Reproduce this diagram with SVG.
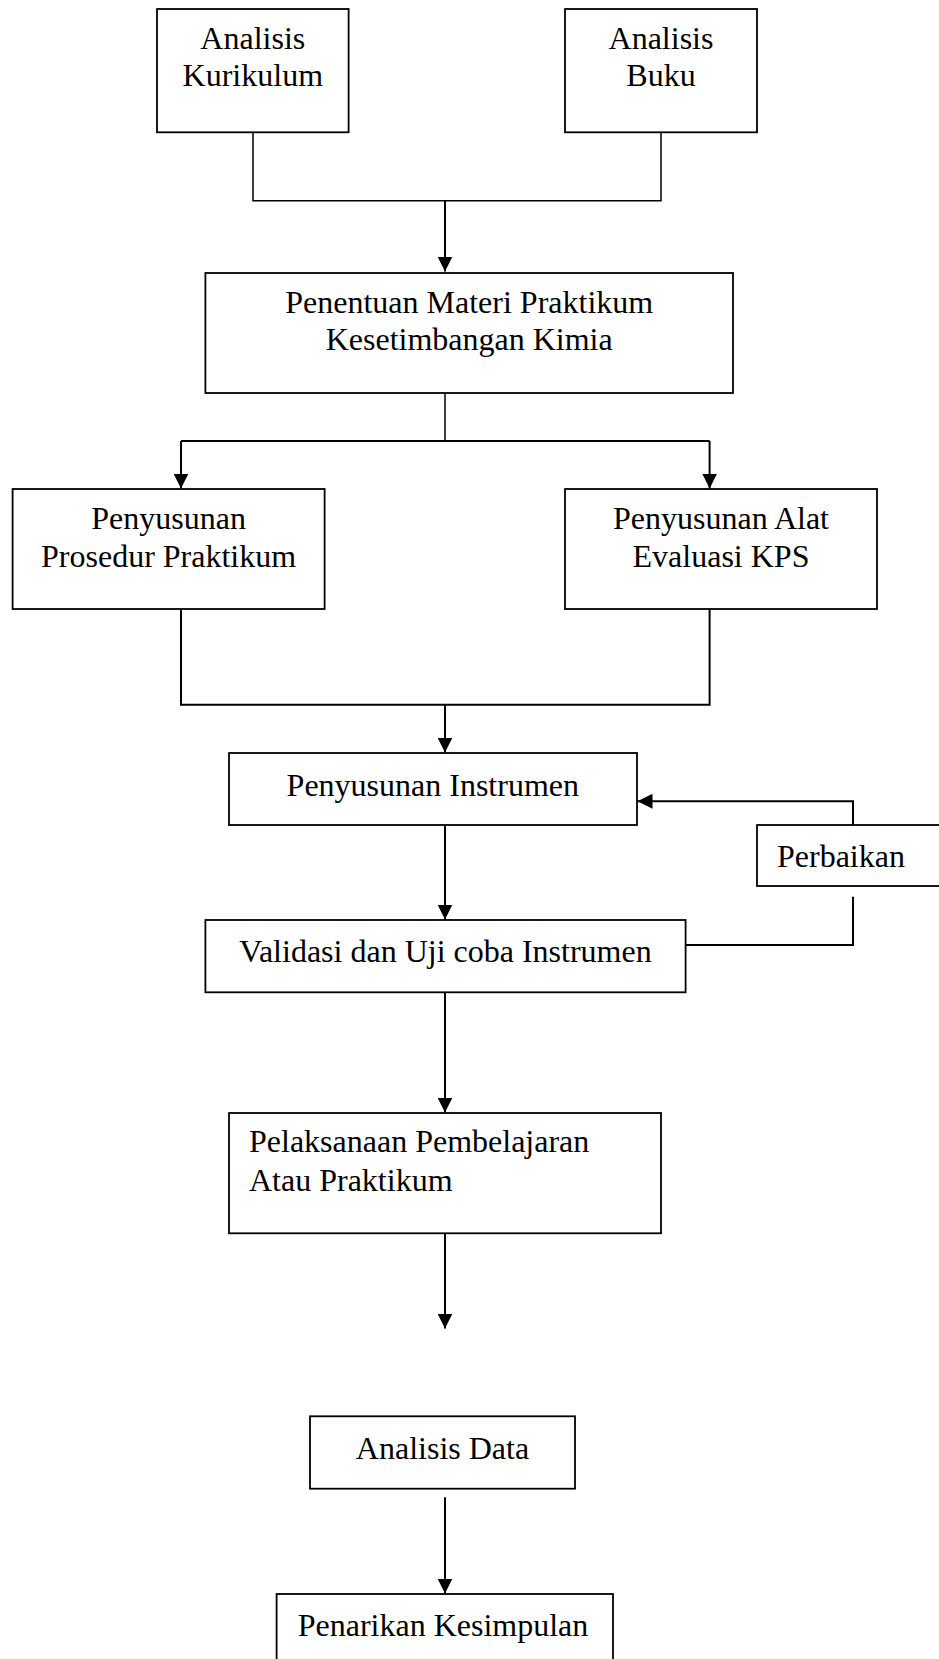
<svg xmlns="http://www.w3.org/2000/svg" width="939" height="1659" viewBox="0 0 939 1659">
<defs>
<marker id="ah" markerWidth="15" markerHeight="15" refX="15" refY="7.5" orient="auto" markerUnits="userSpaceOnUse">
<path d="M0,0 L15,7.5 L0,15 Z" fill="#000"/>
</marker>
<style>
.box{fill:#fff;stroke:#000;stroke-width:1.8}
.ln{fill:none;stroke:#000;stroke-width:1.5}
.ar{fill:none;stroke:#000;stroke-width:2}
.t{font-family:"Liberation Serif","Times New Roman",serif;font-size:32px;fill:#000}
.c{text-anchor:middle}
</style>
</defs>
<rect width="939" height="1659" fill="#fff"/>
<g id="connectors">
<path class="ln" d="M253,129 V200.7 H661 V129"/>
<path class="ar" d="M445,200.7 V271.5" marker-end="url(#ah)"/>
<path class="ln" d="M445,393 V441"/>
<path class="ar" d="M181,441 H709.6"/>
<path class="ar" d="M181,441 V488.5" marker-end="url(#ah)"/>
<path class="ar" d="M709.6,441 V488.5" marker-end="url(#ah)"/>
<path class="ar" d="M181,609 V704.7 H709.6 V609"/>
<path class="ar" d="M445,704.7 V752.5" marker-end="url(#ah)"/>
<path class="ar" d="M445,825 V919.5" marker-end="url(#ah)"/>
<path class="ar" d="M853,825 V801.3 H637.5" marker-end="url(#ah)"/>
<path class="ar" d="M853,896.7 V945 H686"/>
<path class="ar" d="M445,992.5 V1112.5" marker-end="url(#ah)"/>
<path class="ar" d="M445,1233.5 V1328.5" marker-end="url(#ah)"/>
<path class="ar" d="M445,1497.3 V1593.5" marker-end="url(#ah)"/>
</g>
<g id="n-kurikulum">
<rect class="box" x="157" y="9" width="191.6" height="123.3"/>
<text class="t c" x="252.8" y="49">Analisis</text>
<text class="t c" x="252.8" y="86">Kurikulum</text>
</g>
<g id="n-buku">
<rect class="box" x="565" y="9" width="192" height="123.3"/>
<text class="t c" x="661" y="49">Analisis</text>
<text class="t c" x="661" y="86">Buku</text>
</g>
<g id="n-penentuan">
<rect class="box" x="205.4" y="273" width="527.6" height="120"/>
<text class="t c" x="469.2" y="313">Penentuan Materi Praktikum</text>
<text class="t c" x="469.2" y="350">Kesetimbangan Kimia</text>
</g>
<g id="n-prosedur">
<rect class="box" x="12.6" y="489" width="312" height="120"/>
<text class="t c" x="168.6" y="529">Penyusunan</text>
<text class="t c" x="168.6" y="567">Prosedur Praktikum</text>
</g>
<g id="n-alat">
<rect class="box" x="565" y="489" width="312" height="120"/>
<text class="t c" x="721" y="529">Penyusunan Alat</text>
<text class="t c" x="721" y="567">Evaluasi KPS</text>
</g>
<g id="n-instrumen">
<rect class="box" x="229" y="753" width="408" height="72"/>
<text class="t c" x="432.8" y="795.5">Penyusunan Instrumen</text>
</g>
<g id="n-perbaikan">
<rect class="box" x="757" y="825" width="190" height="61"/>
<text class="t" x="777" y="866.5">Perbaikan</text>
</g>
<g id="n-validasi">
<rect class="box" x="205.4" y="920" width="480.2" height="72.3"/>
<text class="t c" x="445.5" y="962">Validasi dan Uji coba Instrumen</text>
</g>
<g id="n-pelaksanaan">
<rect class="box" x="229" y="1113" width="432" height="120.3"/>
<text class="t" x="249" y="1152">Pelaksanaan Pembelajaran</text>
<text class="t" x="249" y="1190.5">Atau Praktikum</text>
</g>
<g id="n-analisis-data">
<rect class="box" x="310" y="1416.3" width="265" height="72.4"/>
<text class="t c" x="442.5" y="1459">Analisis Data</text>
</g>
<g id="n-penarikan">
<rect class="box" x="276.6" y="1594" width="336.4" height="80"/>
<text class="t c" x="443" y="1635.5">Penarikan Kesimpulan</text>
</g>
</svg>
